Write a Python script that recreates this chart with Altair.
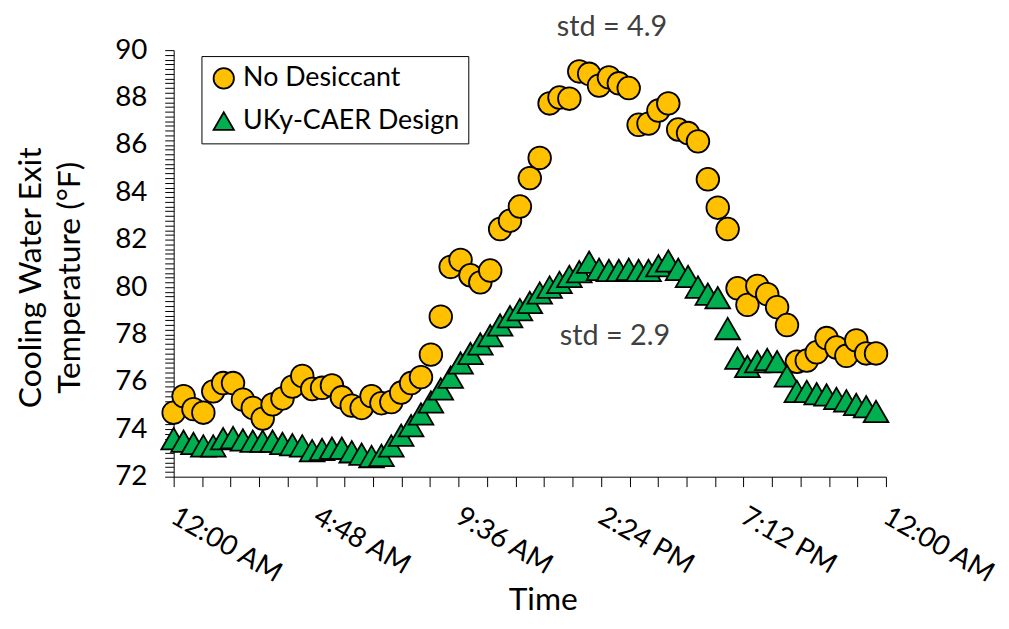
import json
import altair as alt
import pandas as pd

# ---- data ----
times = ["00:00","00:20","00:40","01:00","01:20","01:40","02:00","02:20","02:40","03:00","03:20","03:40",
         "04:00","04:20","04:40","05:00","05:20","05:40","06:00","06:20","06:40","07:00","07:20","07:40",
         "08:00","08:20","08:40","09:00","09:20","09:40","10:00","10:20","10:40","11:00","11:20","11:40",
         "12:00","12:20","12:40","13:00","13:20","13:40","14:00","14:20","14:40","15:00","15:20","15:40",
         "16:00","16:20","16:40","17:00","17:20","17:40","18:00","18:20","18:40","19:00","19:20","19:40",
         "20:00","20:20","20:40","21:00","21:20","21:40","22:00","22:20","22:40","23:00","23:20","23:40"]

no_desiccant = [74.7, 75.4, 74.85, 74.7, 75.6, 75.95, 75.95, 75.25, 74.9, 74.45,
                75.05, 75.3, 75.8, 76.25, 75.7, 75.75, 75.85, 75.35, 75.0, 74.9,
                75.4, 75.1, 75.15, 75.55, 75.95, 76.2, 77.15, 78.75, 80.85, 81.15,
                80.5, 80.2, 80.7, 82.45, 82.8, 83.4, 84.6, 85.45, 87.75, 88.0,
                87.95, 89.1, 89.0, 88.5, 88.85, 88.6, 88.4, 86.85, 86.9, 87.45,
                87.75, 86.65, 86.5, 86.15, 84.55, 83.35, 82.45, 79.95, 79.25, 80.05,
                79.7, 79.15, 78.4, 76.85, 76.9, 77.25, 77.85, 77.45, 77.1, 77.75,
                77.2, 77.2]

ukycaer = [73.6, 73.5, 73.4, 73.3, 73.3, 73.6, 73.65, 73.55, 73.5, 73.5,
           73.5, 73.4, 73.35, 73.3, 73.1, 73.15, 73.2, 73.2, 73.05, 72.95,
           72.85, 72.9, 73.3, 73.75, 74.15, 74.65, 75.15, 75.7, 76.2, 76.8,
           77.2, 77.6, 77.95, 78.4, 78.75, 79.05, 79.35, 79.75, 80.0, 80.2,
           80.45, 80.65, 81.05, 80.75, 80.7, 80.7, 80.75, 80.7, 80.7, 80.9,
           81.1, 80.75, 80.45, 80.0, 79.7, 79.55, 78.25, 77.0, 76.65, 76.85,
           76.95, 76.85, 76.25, 75.6, 75.6, 75.5, 75.45, 75.3, 75.2, 75.05,
           74.95, 74.75]

series_names = ["No Desiccant", "UKy-CAER Design"]
series_colors = ["#FFC000", "#00B050"]
series_shapes = ["circle", "triangle-up"]
series_sizes = [520, 620]

x_tick_labels = ["12:00 AM", "4:48 AM", "9:36 AM", "2:24 PM", "7:12 PM", "12:00 AM"]

std_labels = ["std = 4.9", "std = 2.9"]
std_x = [14.77, 14.87]
std_y = [90.96, 77.94]

FONT = "Lato"

# ---- tables ----
hours = [int(t[:2]) + int(t[3:]) / 60 for t in times]
rows = []
for name, sz, vals in zip(series_names, series_sizes, [no_desiccant, ukycaer]):
    for h, v in zip(hours, vals):
        rows.append({"hour": h, "temp": v, "series": name, "sz": sz})
df = pd.DataFrame(rows)
std_df = pd.DataFrame({"label": std_labels, "hour": std_x, "temp": std_y})

x_values = [round(k * 0.96, 2) for k in range(26)]
y_values = [round(72 + 0.2 * k, 1) for k in range(91)]
arr = json.dumps(x_tick_labels)
x_label_expr = (f"abs(datum.value/4.8 - round(datum.value/4.8)) < 0.01 ? "
                f"{arr}[round(datum.value/4.8)] : ''")
y_label_expr = "abs(datum.value/2 - round(datum.value/2)) < 0.01 ? format(datum.value, 'd') : ''"

x_scale = alt.Scale(domain=[0, 24], nice=False, zero=False)
y_scale = alt.Scale(domain=[72, 90], nice=False, zero=False)

x_axis = alt.Axis(values=x_values, tickCount=500, labelExpr=x_label_expr, labelAngle=30,
                  labelAlign="left", labelBaseline="top", labelFontSize=28, labelFont=FONT,
                  labelColor="black", labelPadding=16, labelOffset=6, labelOverlap=False,
                  labelFlush=False, tickSize=10, tickColor="black", domainColor="black",
                  grid=False, title="Time", titleFontSize=32, titleFont=FONT,
                  titleFontWeight="normal", titleColor="black",
                  titleX=372, titleY=134, titleBaseline="alphabetic")
y_axis = alt.Axis(values=y_values, tickCount=500, labelExpr=y_label_expr, labelFontSize=28,
                  labelFont=FONT, labelColor="black", labelPadding=18, labelOverlap=False,
                  labelFlush=False, tickSize=9, tickColor="black", domainColor="black", grid=False,
                  title=["Cooling Water Exit", "Temperature (°F)"], titleFontSize=32,
                  titleFont=FONT, titleFontWeight="normal", titleColor="black",
                  titlePadding=28, titleLineHeight=40, titleY=229)

legend = alt.Legend(title=None, orient="none", legendX=28, legendY=6,
                    strokeColor="black", fillColor="white", padding=9,
                    labelFontSize=27, labelFont=FONT, labelColor="black", labelLimit=500,
                    symbolSize=420, symbolStrokeWidth=1.8, symbolStrokeColor="black",
                    rowPadding=14, labelOffset=6)

points = alt.Chart(df).mark_point(filled=True, strokeWidth=1.8, opacity=1).encode(
    x=alt.X("hour:Q", scale=x_scale, axis=x_axis),
    y=alt.Y("temp:Q", scale=y_scale, axis=y_axis),
    fill=alt.Fill("series:N", scale=alt.Scale(domain=series_names, range=series_colors),
                  legend=legend),
    shape=alt.Shape("series:N", scale=alt.Scale(domain=series_names, range=series_shapes),
                    legend=legend),
    stroke=alt.Stroke("series:N", scale=alt.Scale(domain=series_names, range=["black", "black"]),
                      legend=legend),
    size=alt.Size("sz:Q", scale=None),
)

std_text = alt.Chart(std_df).mark_text(font=FONT, fontSize=29, color="#404040",
                                       align="center", baseline="middle").encode(
    x=alt.X("hour:Q", scale=x_scale),
    y=alt.Y("temp:Q", scale=y_scale),
    text="label:N",
)

chart = alt.layer(points, std_text).properties(
    width=718, height=430,
    autosize=alt.AutoSizeParams(type="none"),
    padding={"left": 167, "top": 40, "right": 116, "bottom": 140},
).configure_view(strokeWidth=0)

chart.save("out.html", embed_options={"renderer": "svg", "actions": False})
